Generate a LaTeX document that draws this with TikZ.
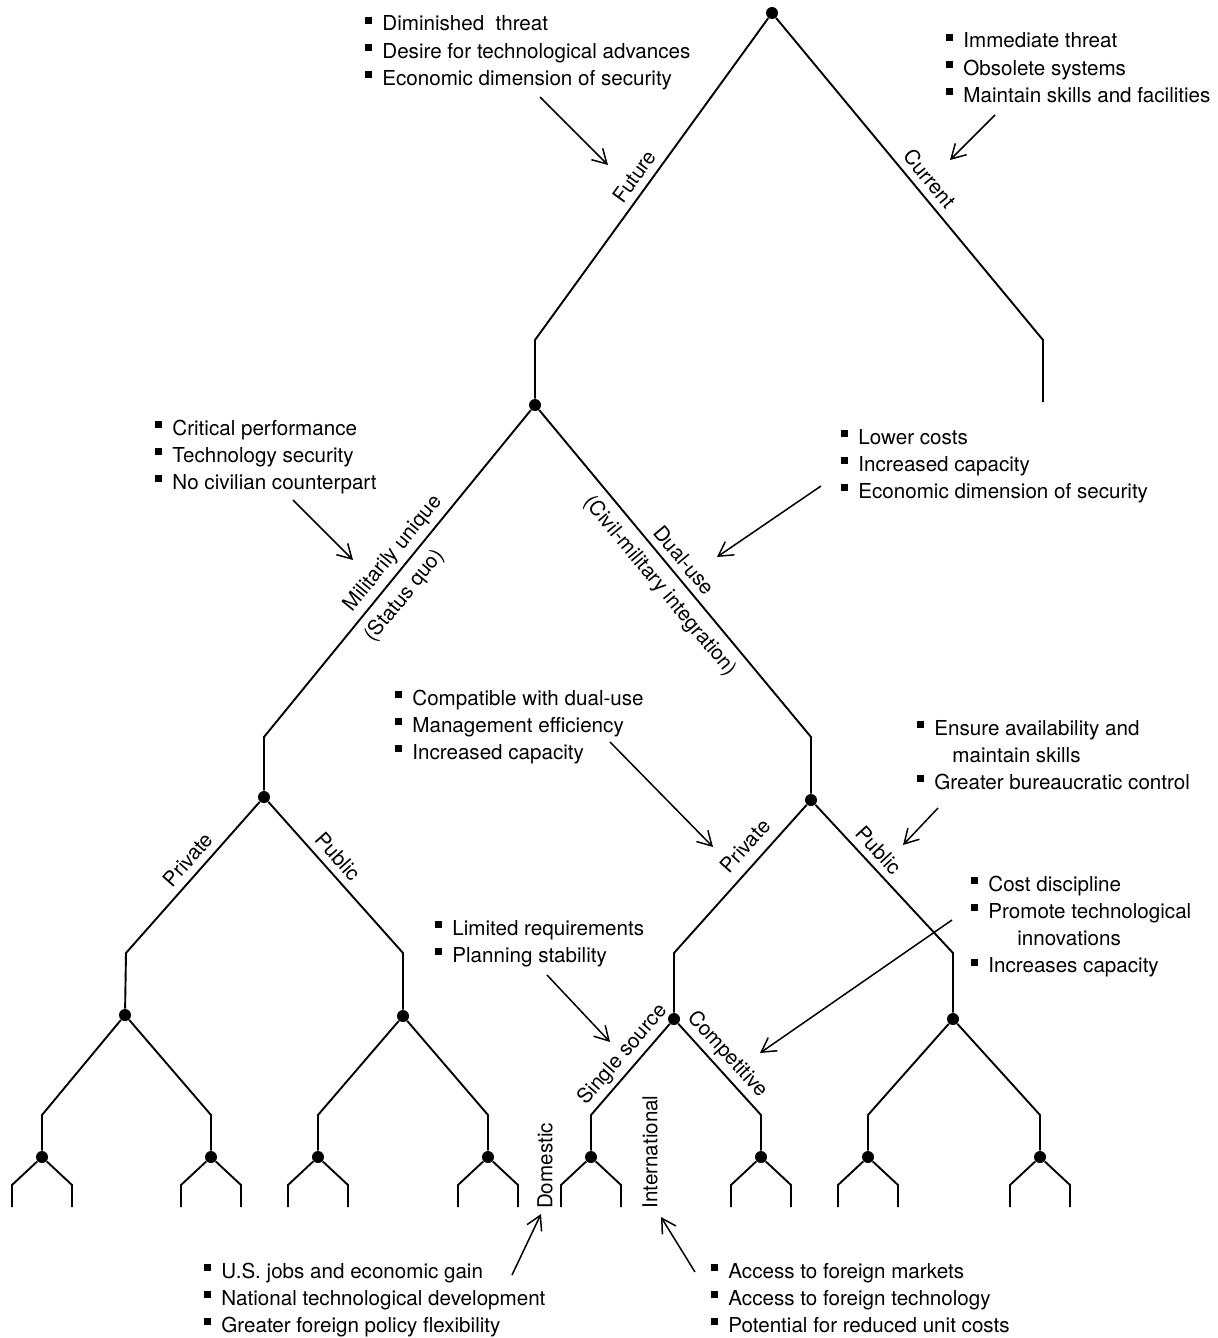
\documentclass[tikz,border=0pt]{standalone}
\usepackage{fontspec}
\setmainfont{TeX Gyre Heros}
\usetikzlibrary{arrows.meta}

% Square bullet for the lists
\newcommand{\sq}{\rule[3.5pt]{3.5pt}{3.5pt}\hspace{5pt}}

\begin{document}
\begin{tikzpicture}[x=0.5pt, y=-0.5pt]
  % Styles
  \tikzset{
    branch/.style={line width=0.95pt},
    dot/.style={circle, fill=black, inner sep=0pt, minimum size=6pt},
    lbl/.style={sloped, inner sep=3.5pt, font=\fontsize{10.3}{12}\selectfont},
    notes/.style={anchor=base west, inner sep=0pt, font=\fontsize{10.3}{13.6}\selectfont},
    pointer/.style={line width=0.75pt, -{Straight Barb[length=7pt, width=8pt]}},
  }
  \useasboundingbox (0,0) rectangle (1217,1338);

  % Points of the upper tree
  \node[dot] (root) at (772,13) {};
  \coordinate (fut-s) at (535,340);
  \node[dot] (fut) at (535,405) {};
  \coordinate (cur-s) at (1043,340);
  \coordinate (cur) at (1043,402);
  \coordinate (mil-s) at (264,737);
  \node[dot] (mil) at (264,797) {};
  \coordinate (dual-s) at (811,737);
  \node[dot] (dual) at (811,800) {};
  \coordinate (milpr-s) at (126,953);
  \node[dot] (milpr) at (125,1015) {};
  \coordinate (milpu-s) at (403,953);
  \node[dot] (milpu) at (403,1016) {};
  \coordinate (dualpr-s) at (674,953);
  \node[dot] (dualpr) at (674,1019) {};
  \coordinate (dualpu-s) at (953,953);
  \node[dot] (dualpu) at (953,1019) {};

  % Upper branches and their labels
  \draw[branch] (root) -- node[lbl, above, pos=.52] {Future} (fut-s) -- (fut);
  \draw[branch] (root) -- node[lbl, above, pos=.53] {Current} (cur-s) -- (cur);
  \draw[branch] (fut) -- node[lbl, above, pos=.47, inner sep=2.5pt] {Militarily unique}
    node[lbl, below, pos=.53, inner sep=4.5pt] {(Status quo)} (mil-s) -- (mil);
  \draw[branch] (fut) -- node[lbl, above, pos=.49] {Dual-use}
    node[lbl, below, pos=.5, inner sep=4.5pt] {(Civil-military integration)} (dual-s) -- (dual);
  \draw[branch] (mil) -- node[lbl, above, pos=.45] {Private} (milpr-s) -- (milpr);
  \draw[branch] (mil) -- node[lbl, above, pos=.43] {Public} (milpu-s) -- (milpu);
  \draw[branch] (dual) -- node[lbl, above, pos=.36, inner sep=5pt] {Private} (dualpr-s) -- (dualpr);
  \draw[branch] (dual) -- node[lbl, above, pos=.38] {Public} (dualpu-s) -- (dualpu);

  % Lower levels, each ending in two open ends
  \foreach \p/\xa/\xb in {milpr/42/211, milpu/318/488, dualpr/591/761, dualpu/868/1040} {
    \coordinate (\p-ls) at (\xa,1115);
    \coordinate (\p-rs) at (\xb,1115);
    \node[dot] (\p-l) at (\xa,1157) {};
    \node[dot] (\p-r) at (\xb,1157) {};
    \draw[branch] (\p) -- (\p-ls) -- (\p-l);
    \draw[branch] (\p) -- (\p-rs) -- (\p-r);
    \foreach \s in {l,r} {
      \path (\p-\s) ++(-30,28) coordinate (\p-\s-a) ++(0,22) coordinate (\p-\s-b);
      \path (\p-\s) ++(30,28) coordinate (\p-\s-c) ++(0,22) coordinate (\p-\s-d);
      \draw[branch] (\p-\s-b) -- (\p-\s-a) -- (\p-\s) -- (\p-\s-c) -- (\p-\s-d);
    }
  }

  % Labels of the lower levels
  \path (dualpr) -- node[lbl, above, pos=.45, inner sep=2.5pt] {Single source} (dualpr-ls);
  \path (dualpr) -- node[lbl, above, pos=.45, inner sep=2.5pt] {Competitive} (dualpr-rs);
  \node[rotate=90, font=\fontsize{10.3}{12}\selectfont] (dom) at (545,1166) {Domestic};
  \node[rotate=90, font=\fontsize{10.3}{12}\selectfont] (intl) at (650,1152) {International};

  % Lists of reasons
  \node[notes] (n-fut) at (365,31) {\begin{tabular}[t]{@{}l@{}}
    \sq Diminished\ \ threat\\
    \sq Desire for technological advances\\
    \sq Economic dimension of security
  \end{tabular}};
  \node[notes] (n-cur) at (946,48) {\begin{tabular}[t]{@{}l@{}}
    \sq Immediate threat\\
    \sq Obsolete systems\\
    \sq Maintain skills and facilities
  \end{tabular}};
  \node[notes] (n-mil) at (155,435) {\begin{tabular}[t]{@{}l@{}}
    \sq Critical performance\\
    \sq Technology security\\
    \sq No civilian counterpart
  \end{tabular}};
  \node[notes] (n-dual) at (841,444) {\begin{tabular}[t]{@{}l@{}}
    \sq Lower costs\\
    \sq Increased capacity\\
    \sq Economic dimension of security
  \end{tabular}};
  \node[notes] (n-pr) at (395,705) {\begin{tabular}[t]{@{}l@{}}
    \sq Compatible with dual-use\\
    \sq Management efficiency\\
    \sq Increased capacity
  \end{tabular}};
  \node[notes] (n-pu) at (917,735) {\begin{tabular}[t]{@{}l@{}}
    \sq Ensure availability and\\
    \hspace{17.5pt}maintain skills\\
    \sq Greater bureaucratic control
  \end{tabular}};
  \node[notes] (n-comp) at (971,891) {\begin{tabular}[t]{@{}l@{}}
    \sq Cost discipline\\
    \sq Promote technological\\
    \hspace{23pt}innovations\\
    \sq Increases capacity
  \end{tabular}};
  \node[notes] (n-single) at (435,935) {\begin{tabular}[t]{@{}l@{}}
    \sq Limited requirements\\
    \sq Planning stability
  \end{tabular}};
  \node[notes] (n-dom) at (204,1278) {\begin{tabular}[t]{@{}l@{}}
    \sq U.S. jobs and economic gain\\
    \sq National technological development\\
    \sq Greater foreign policy flexibility
  \end{tabular}};
  \node[notes] (n-intl) at (711,1278) {\begin{tabular}[t]{@{}l@{}}
    \sq Access to foreign markets\\
    \sq Access to foreign technology\\
    \sq Potential for reduced unit costs
  \end{tabular}};

  % Arrows from the lists to the branches
  \coordinate (a-fut) at (540,97);    \coordinate (t-fut) at (608,165);
  \coordinate (a-cur) at (995,115);   \coordinate (t-cur) at (950,160);
  \coordinate (a-mil) at (293,500);   \coordinate (t-mil) at (353,560);
  \coordinate (a-dual) at (821,486);  \coordinate (t-dual) at (717,557);
  \coordinate (a-pr) at (610,742);    \coordinate (t-pr) at (713,847);
  \coordinate (a-pu) at (938,808);    \coordinate (t-pu) at (903,845);
  \coordinate (a-comp) at (952,920);  \coordinate (t-comp) at (760,1053);
  \coordinate (a-single) at (547,975); \coordinate (t-single) at (610,1042);
  \coordinate (a-dom) at (512,1275);  \coordinate (t-dom) at (541,1214);
  \coordinate (a-intl) at (695,1272); \coordinate (t-intl) at (661,1217);
  \foreach \k in {fut, cur, mil, dual, pr, pu, comp, single, dom, intl}
    \draw[pointer] (a-\k) -- (t-\k);

\end{tikzpicture}
\end{document}
